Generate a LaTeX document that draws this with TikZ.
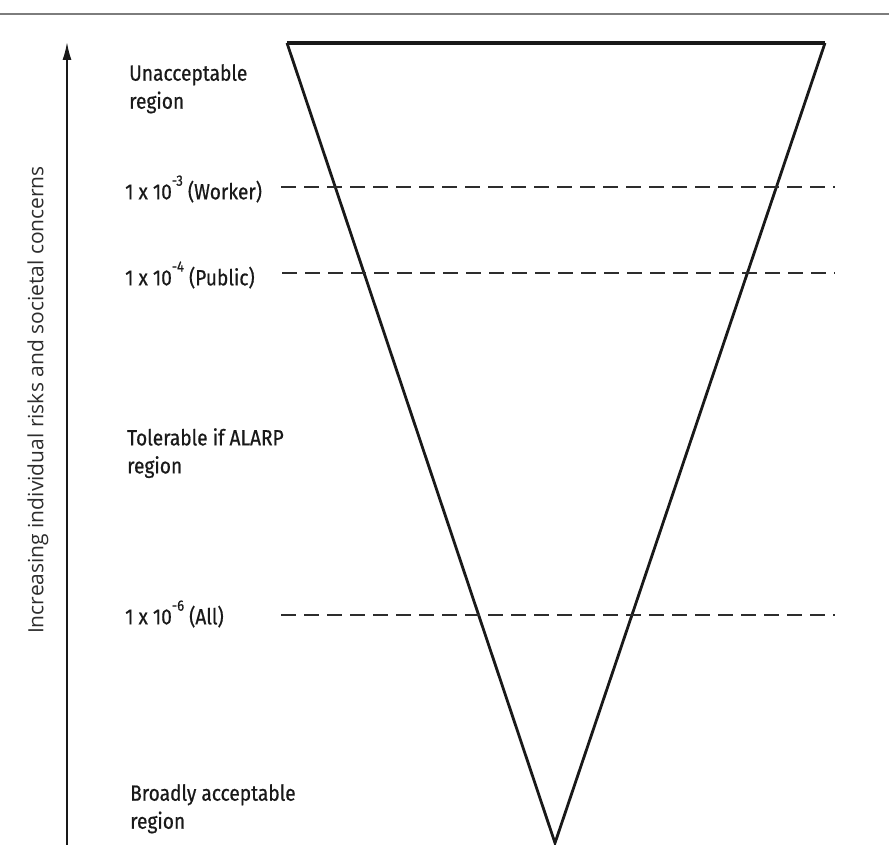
\documentclass[tikz,border=0pt]{standalone}
\usepackage{fontspec}
\setmainfont{Fira Sans}[FakeStretch=0.87, FakeBold=0.6]
\newfontfamily\axisfont{Open Sans}
\usetikzlibrary{arrows.meta, positioning}
\definecolor{rulegray}{RGB}{125, 125, 125}
\definecolor{inkblack}{RGB}{25, 25, 25}
\definecolor{dashgray}{RGB}{45, 45, 45}
\newcommand{\expo}[1]{\raisebox{0.62em}{\fontsize{15}{15}\selectfont #1}}

\begin{document}
\begin{tikzpicture}[
    x=1pt, y=-1pt,
    region/.style={anchor=north west, align=left, inner sep=0pt,
                   font=\fontsize{22}{28}\selectfont, text=inkblack},
    level/.style={anchor=west, inner sep=0pt,
                  font=\fontsize{22}{25}\selectfont, text=inkblack},
    funnel/.style={line width=2.8pt, inkblack, line join=miter},
    limit/.style={line width=1.6pt, dashgray, dash pattern=on 15pt off 8pt},
    axis/.style={-{Latex[length=18pt, width=9pt]}, line width=1.8pt, inkblack}
]
    \useasboundingbox (0,0) rectangle (889,845);

    % header rule
    \coordinate (ruleL) at (0,14);
    \coordinate (ruleR) at (889,14);
    \draw[rulegray, line width=2.5pt] (ruleL) -- (ruleR);

    % the funnel
    \coordinate (topL) at (287,43);
    \coordinate (topR) at (825,43);
    \coordinate (apex) at (555,843);
    \draw[funnel] (topR) -- (apex) -- (topL);
    \draw[inkblack, line width=4.5pt] (topL) -- (topR);

    % risk axis
    \coordinate (axisfoot) at (67,845);
    \coordinate (axistip) at (67,42);
    \draw[axis] (axisfoot) -- (axistip);
    \node[rotate=90, font=\axisfont\fontsize{21}{22}\selectfont, text=dashgray]
        (axislabel) at (38,400) {Increasing individual risks and societal concerns};

    % region labels
    \node[region] (unaccept) at (129,64) {Unacceptable\\region};
    \node[region] (alarp) at (127,428) {Tolerable if ALARP\\region};
    \node[region] (broad) at (130,784) {Broadly acceptable\\region};

    % criteria and their limit lines
    \node[level] (worker) at (125,189) {1 x 10\expo{-3} (Worker)};
    \node[level] (public) at (125,275) {1 x 10\expo{-4} (Public)};
    \node[level] (all) at (125,614) {1 x 10\expo{-6} (All)};

    \coordinate (workerEnd) at (835,187);
    \coordinate (publicEnd) at (835,273);
    \coordinate (allEnd) at (835,615);
    \draw[limit] (281,187) -- (workerEnd);
    \draw[limit] (282,273) -- (publicEnd);
    \draw[limit] (281,615) -- (allEnd);
\end{tikzpicture}
\end{document}
